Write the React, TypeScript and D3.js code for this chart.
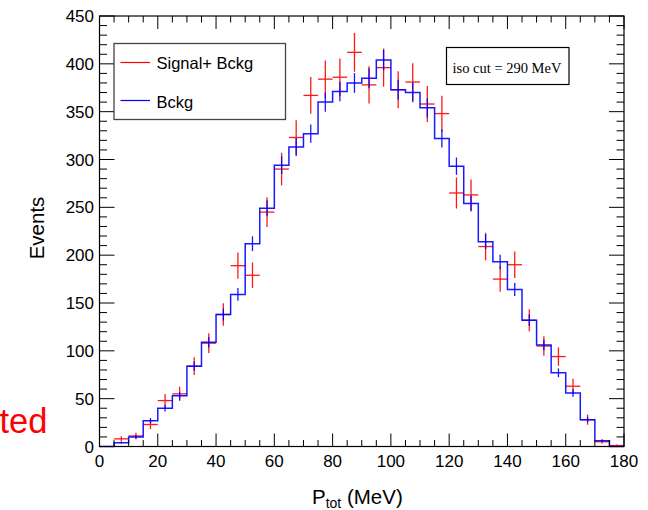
import React from 'react';
import * as d3 from 'd3';

// ---- data ----
const binLow = 0;
const binWidth = 5;
const signalPlusBckg = [0, 8, 11, 23, 48, 55, 84, 108, 138, 189, 179, 245, 290, 323, 367, 384, 386, 412, 378, 396, 373, 381, 358, 348, 265, 263, 209, 175, 190, 132, 105, 94, 63, 28, 5, 1];
const bckg = [0, 4, 10, 27, 40, 53, 84, 109, 138, 159, 212, 249, 294, 313, 327, 360, 371, 380, 385, 404, 373, 370, 354, 322, 293, 254, 214, 193, 164, 132, 106, 77, 56, 28, 6, 0];
const bckgErrScale = 0.53; // background MC error relative to sqrt(N)
const xTicks = [0, 20, 40, 60, 80, 100, 120, 140, 160, 180];
const yTicks = [0, 50, 100, 150, 200, 250, 300, 350, 400, 450];
const xMinorStep = 5;
const yMinorStep = 10;
const legendLabels = ['Signal+ Bckg', 'Bckg'];
const noteText = 'iso cut = 290 MeV';

const W = 648, H = 510;
const M = { left: 99.5, right: 624, top: 16, bottom: 446.5 };
const FONT = '"Liberation Sans", Arial, Helvetica, sans-serif';

export default function App() {
  const x = d3.scaleLinear().domain([0, 180]).range([M.left, M.right]);
  const y = d3.scaleLinear().domain([0, 450]).range([M.bottom, M.top]);

  const xMinor = d3.range(0, 180 + 0.001, xMinorStep).filter(v => !xTicks.includes(v));
  const yMinor = d3.range(0, 450 + 0.001, yMinorStep).filter(v => !yTicks.includes(v));

  const histPts: [number, number][] = bckg.map((v, i) => [binLow + i * binWidth, v]);
  histPts.push([binLow + bckg.length * binWidth, bckg[bckg.length - 1]]);
  const stepLine = d3.line<[number, number]>()
    .x(d => x(d[0]))
    .y(d => y(d[1]))
    .curve(d3.curveStepAfter);

  const xMajLen = 13, xMinLen = 6.5, yMajLen = 15, yMinLen = 7.5;

  return (
    <svg width={W} height={H} style={{ position: 'absolute', left: 0, top: 0, background: '#fff' }}>
      <rect x={0} y={0} width={W} height={H} fill="#fff" />

      {/* red data: signal + background */}
      <g stroke="#ff0000" strokeWidth={1.3} opacity={0.9}>
        {signalPlusBckg.map((v, i) => {
          if (v <= 0) return null;
          const lo = binLow + i * binWidth;
          const c = lo + binWidth / 2;
          const e = Math.sqrt(v);
          return (
            <g key={i}>
              <line x1={x(lo)} x2={x(lo + binWidth)} y1={y(v)} y2={y(v)} />
              <line x1={x(c)} x2={x(c)} y1={y(Math.max(0, v - e))} y2={y(v + e)} />
            </g>
          );
        })}
      </g>

      {/* blue background histogram */}
      <path d={stepLine(histPts) || ''} fill="none" stroke="#0000ff" strokeWidth={1.5} opacity={0.9} />
      <g stroke="#0000ff" strokeWidth={1.3} opacity={0.9}>
        {bckg.map((v, i) => {
          if (v <= 0) return null;
          const c = binLow + i * binWidth + binWidth / 2;
          const e = Math.sqrt(v) * bckgErrScale;
          return <line key={i} x1={x(c)} x2={x(c)} y1={y(Math.max(0, v - e))} y2={y(v + e)} />;
        })}
      </g>

      {/* frame */}
      <rect x={M.left} y={M.top} width={M.right - M.left} height={M.bottom - M.top} fill="none" stroke="#000" strokeWidth={1.2} />

      {/* ticks */}
      <g stroke="#000" strokeWidth={1}>
        {xTicks.map(t => (
          <g key={'xt' + t}>
            <line x1={x(t)} x2={x(t)} y1={M.bottom} y2={M.bottom - xMajLen} />
            <line x1={x(t)} x2={x(t)} y1={M.top} y2={M.top + xMajLen} />
          </g>
        ))}
        {xMinor.map(t => (
          <g key={'xm' + t}>
            <line x1={x(t)} x2={x(t)} y1={M.bottom} y2={M.bottom - xMinLen} />
            <line x1={x(t)} x2={x(t)} y1={M.top} y2={M.top + xMinLen} />
          </g>
        ))}
        {yTicks.map(t => (
          <g key={'yt' + t}>
            <line x1={M.left} x2={M.left + yMajLen} y1={y(t)} y2={y(t)} />
            <line x1={M.right} x2={M.right - yMajLen} y1={y(t)} y2={y(t)} />
          </g>
        ))}
        {yMinor.map(t => (
          <g key={'ym' + t}>
            <line x1={M.left} x2={M.left + yMinLen} y1={y(t)} y2={y(t)} />
            <line x1={M.right} x2={M.right - yMinLen} y1={y(t)} y2={y(t)} />
          </g>
        ))}
      </g>

      {/* tick labels */}
      <g fontFamily={FONT} fontSize={17} fill="#000">
        {xTicks.map(t => (
          <text key={'xl' + t} x={x(t)} y={M.bottom + 20.5} textAnchor="middle">{t}</text>
        ))}
        {yTicks.map(t => (
          <text key={'yl' + t} x={94} y={y(t)} dy="0.36em" textAnchor="end">{t}</text>
        ))}
      </g>

      {/* axis titles */}
      <text fontFamily={FONT} fontSize={20.5} fill="#000" transform="translate(43.5,228) rotate(-90)" textAnchor="middle">Events</text>
      <text fontFamily={FONT} fontSize={20.5} fill="#000" x={312} y={503.5}>
        P<tspan fontSize={14} dy={4.5}>tot</tspan><tspan dy={-4.5}> (MeV)</tspan>
      </text>

      {/* legend */}
      <rect x={114} y={43.5} width={171.5} height={76} fill="#fff" stroke="#444" strokeWidth={1.3} />
      <line x1={120.5} x2={150} y1={62.5} y2={62.5} stroke="#ff0000" strokeWidth={1.2} />
      <line x1={120.5} x2={150} y1={100.5} y2={100.5} stroke="#0000ff" strokeWidth={1.2} />
      <text fontFamily={FONT} fontSize={16.5} x={156.5} y={68.5} fill="#000">{legendLabels[0]}</text>
      <text fontFamily={FONT} fontSize={16.5} x={156.5} y={107.5} fill="#000">{legendLabels[1]}</text>

      {/* note box */}
      <rect x={446.5} y={47.5} width={122.5} height={37} fill="#fff" stroke="#000" strokeWidth={1.2} />
      <text fontFamily='"Liberation Serif", "Times New Roman", serif' fontSize={14.5} x={452.5} y={72.5} fill="#000">{noteText}</text>

      {/* partly visible red label */}
      <text fontFamily={FONT} fontSize={34.5} fill="#ff0000" x={47.5} y={433} textAnchor="end">ted</text>
    </svg>
  );
}
